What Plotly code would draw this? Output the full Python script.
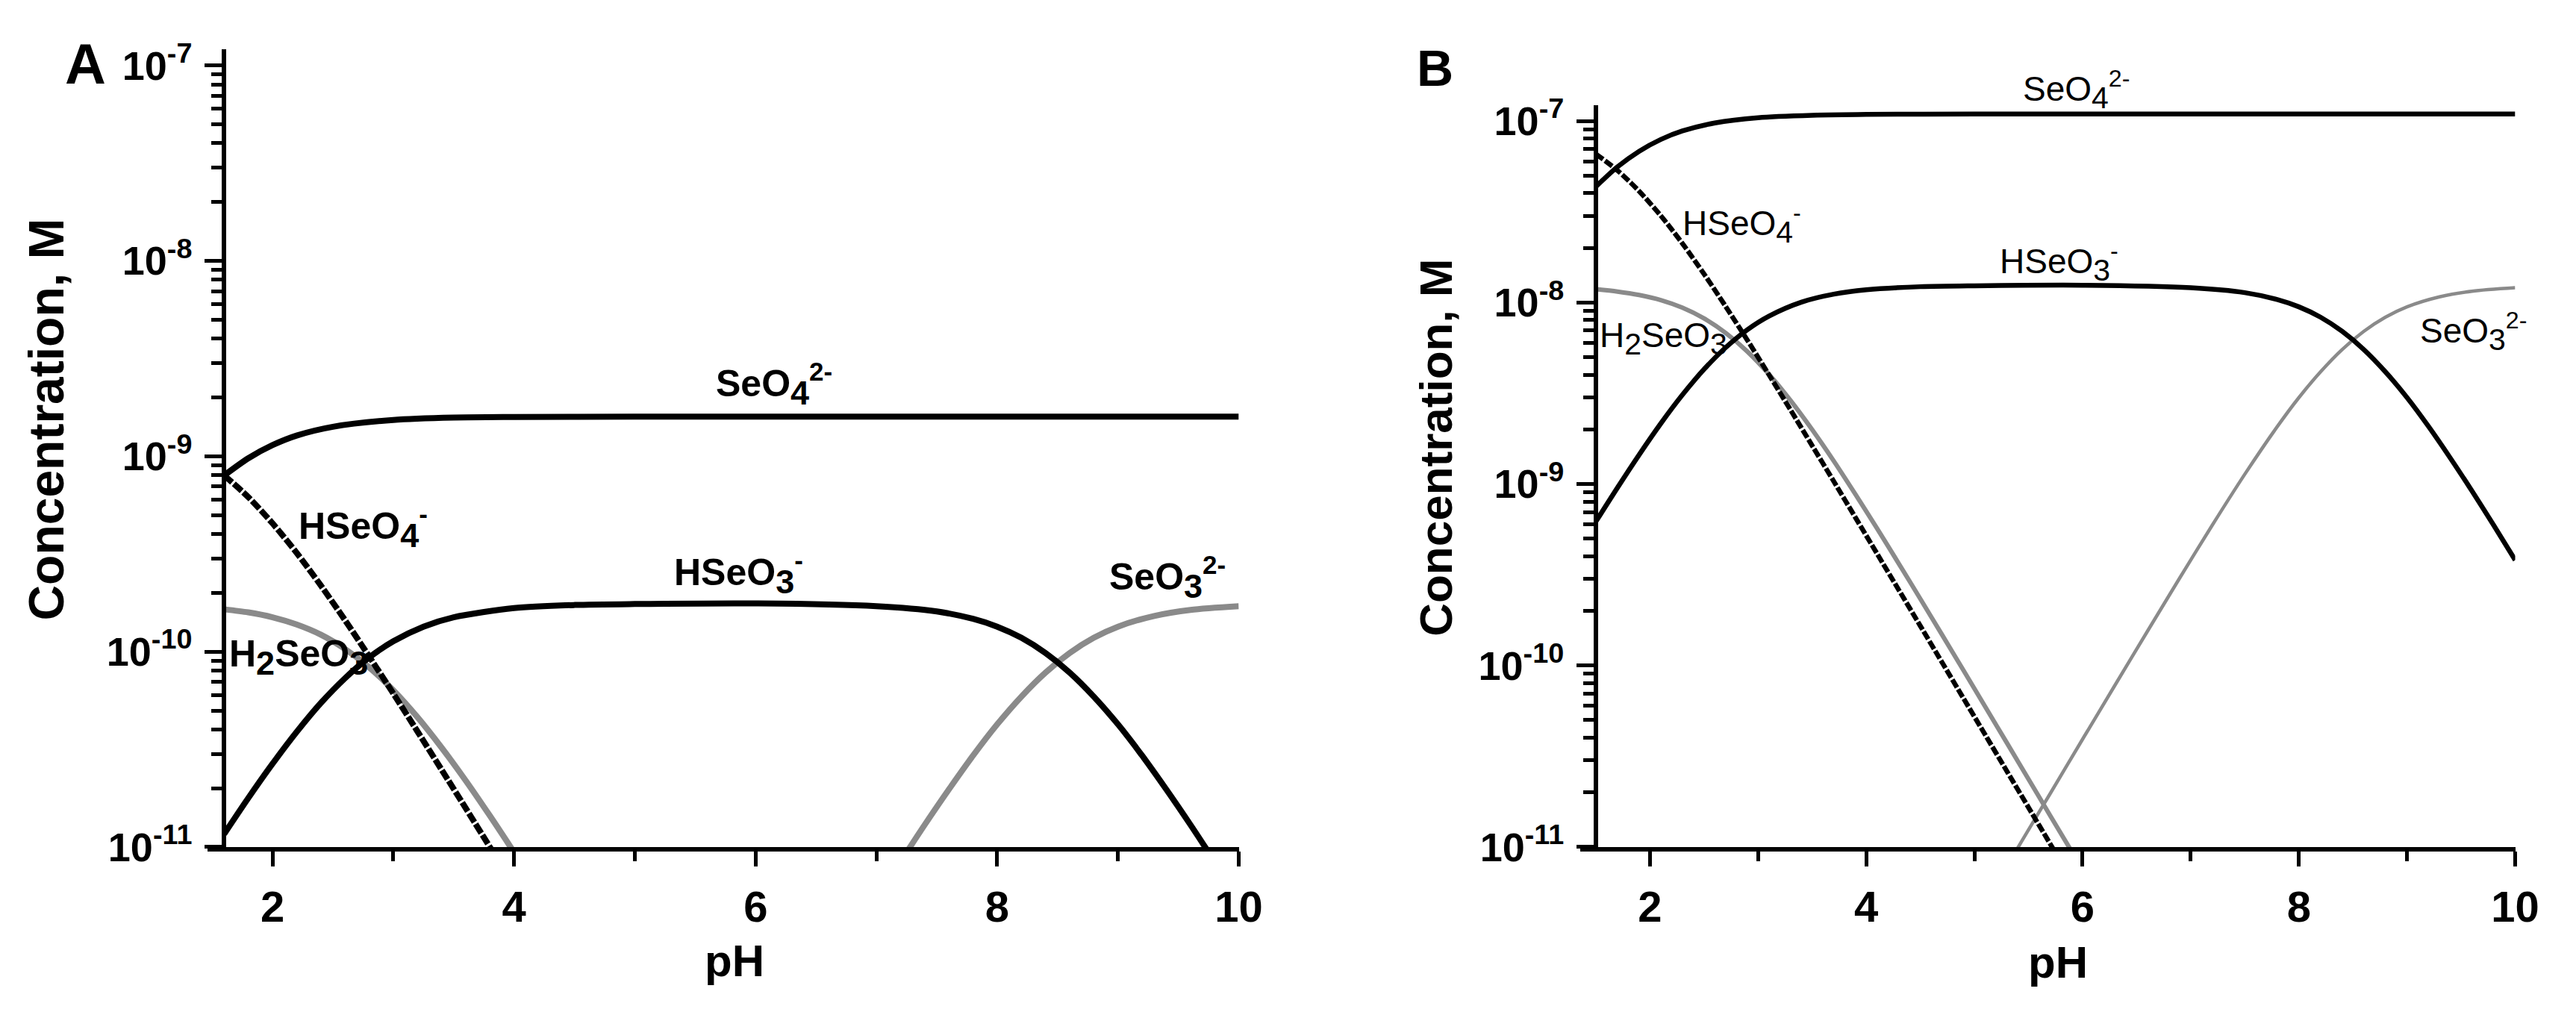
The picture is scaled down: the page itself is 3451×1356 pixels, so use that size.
import numpy as np
import plotly.graph_objects as go

W, H = 3451, 1356

# ---- panel A: log10 concentration (M) ----
ph_a_seo4 = [1.6, 1.8, 2.0, 2.2, 2.5, 3.0, 3.5, 4.0, 5.0, 6.0, 7.0, 8.0, 9.0, 10.0]
log_a_seo4 = [-9.098, -9.010, -8.943, -8.894, -8.849, -8.814, -8.802, -8.799, -8.797,
              -8.797, -8.797, -8.797, -8.797, -8.797]

ph_a_hseo4 = [1.6, 1.8, 2.0, 2.2, 2.4, 2.6, 2.8, 3.0, 3.2, 3.4, 3.6, 3.8, 3.9]
log_a_hseo4 = [-9.098, -9.209, -9.343, -9.494, -9.661, -9.838, -10.024, -10.214, -10.408,
               -10.604, -10.801, -11.000, -11.099]

ph_a_h2seo3 = [1.6, 1.8, 2.0, 2.2, 2.4, 2.6, 2.8, 3.0, 3.2, 3.4, 3.6, 3.8, 4.0]
log_a_h2seo3 = [-9.783, -9.799, -9.824, -9.861, -9.913, -9.986, -10.080, -10.197, -10.335,
                -10.491, -10.660, -10.840, -11.027]

ph_a_hseo3 = [1.6, 1.8, 2.0, 2.2, 2.4, 2.6, 2.8, 3.0, 3.25, 3.5, 4.0, 4.5, 5.0, 6.0, 7.0,
              7.5, 7.8, 8.0, 8.2, 8.4, 8.6, 8.8, 9.0, 9.2, 9.4, 9.6, 9.8]
log_a_hseo3 = [-10.933, -10.749, -10.574, -10.411, -10.263, -10.136, -10.030, -9.947, -9.872,
               -9.824, -9.777, -9.761, -9.756, -9.753, -9.767, -9.794, -9.832, -9.872,
               -9.929, -10.007, -10.107, -10.230, -10.372, -10.532, -10.705, -10.886, -11.074]

ph_a_seo3 = [7.2, 7.4, 7.6, 7.8, 8.0, 8.2, 8.4, 8.6, 8.8, 9.0, 9.3, 9.6, 10.0]
log_a_seo3 = [-11.074, -10.886, -10.705, -10.532, -10.372, -10.230, -10.107, -10.007,
              -9.929, -9.872, -9.817, -9.786, -9.767]

# ---- panel B ----
ph_b_seo4 = [1.5, 1.7, 1.9, 2.1, 2.3, 2.6, 3.0, 3.5, 4.0, 5.0, 6.0, 7.0, 8.0, 9.0, 10.0]
log_b_seo4 = [-7.362, -7.253, -7.167, -7.102, -7.055, -7.011, -6.982, -6.969, -6.964,
              -6.962, -6.962, -6.962, -6.962, -6.962, -6.962]

ph_b_hseo4 = [1.5, 1.7, 1.9, 2.1, 2.3, 2.5, 2.7, 2.9, 3.1, 3.3, 3.5, 3.7, 3.9, 4.1, 4.3,
              4.5, 4.7, 4.9, 5.1, 5.3, 5.5, 5.7, 5.9]
log_b_hseo4 = [-7.182, -7.273, -7.387, -7.522, -7.675, -7.843, -8.022, -8.207, -8.398,
               -8.592, -8.789, -8.986, -9.185, -9.384, -9.583, -9.782, -9.982, -10.182,
               -10.382, -10.582, -10.782, -10.982, -11.182]

ph_b_h2seo3 = [1.5, 1.7, 1.9, 2.1, 2.3, 2.5, 2.7, 2.9, 3.1, 3.3, 3.5, 3.7, 3.9, 4.1, 4.3,
               4.5, 4.7, 4.9, 5.1, 5.3, 5.5, 5.7, 5.9]
log_b_h2seo3 = [-7.927, -7.940, -7.959, -7.987, -8.029, -8.088, -8.168, -8.270, -8.395,
                -8.540, -8.701, -8.874, -9.057, -9.245, -9.438, -9.633, -9.830, -10.028,
                -10.227, -10.426, -10.626, -10.826, -11.025]

ph_b_hseo3 = [1.5, 1.7, 1.9, 2.1, 2.3, 2.5, 2.7, 2.9, 3.1, 3.4, 3.7, 4.0, 4.5, 5.0, 6.0,
              7.0, 7.5, 7.8, 8.0, 8.2, 8.4, 8.6, 8.8, 9.0, 9.2, 9.4, 9.6, 9.8, 10.0]
log_b_hseo3 = [-9.207, -9.020, -8.839, -8.667, -8.509, -8.368, -8.248, -8.150, -8.075,
               -7.998, -7.954, -7.930, -7.913, -7.908, -7.905, -7.919, -7.946, -7.984,
               -8.024, -8.081, -8.159, -8.259, -8.382, -8.524, -8.684, -8.857, -9.038,
               -9.226, -9.419]

ph_b_seo3 = [5.3, 5.5, 5.7, 6.0, 6.3, 6.6, 6.9, 7.2, 7.5, 7.8, 8.0, 8.2, 8.4, 8.6, 8.8,
             9.0, 9.3, 9.6, 10.0]
log_b_seo3 = [-11.105, -10.905, -10.706, -10.406, -10.108, -9.811, -9.516, -9.226, -8.946,
              -8.684, -8.524, -8.382, -8.259, -8.159, -8.081, -8.024, -7.969, -7.938, -7.919]

# axis ticks
x_major = [2, 4, 6, 8, 10]
x_minor = [3, 5, 7, 9]
y_exps = [-11, -10, -9, -8, -7]
y_major = [10.0 ** e for e in y_exps]
y_labels = [f"10<sup>{e}</sup>" for e in y_exps]
y_minor = [m * 10.0 ** e for e in y_exps[:-1] for m in range(2, 10)]

FONT = "Liberation Sans, Arial, sans-serif"
BLACK = "#000000"
GREY = "#8a8a8a"

fig = go.Figure()


def add_line(ph, logc, xa, ya, color, width, dash="solid"):
    fig.add_trace(go.Scatter(
        x=ph, y=10 ** np.array(logc), xaxis=xa, yaxis=ya, mode="lines",
        line=dict(color=color, width=width, dash=dash, shape="spline", smoothing=0.8),
        showlegend=False, hoverinfo="skip"))


# panel A
add_line(ph_a_h2seo3, log_a_h2seo3, "x", "y", GREY, 8)
add_line(ph_a_seo3, log_a_seo3, "x", "y", GREY, 8)
add_line(ph_a_seo4, log_a_seo4, "x", "y", BLACK, 8)
add_line(ph_a_hseo3, log_a_hseo3, "x", "y", BLACK, 8)
add_line(ph_a_hseo4, log_a_hseo4, "x", "y", BLACK, 8, "14px,3px")

# panel B
add_line(ph_b_h2seo3, log_b_h2seo3, "x2", "y2", GREY, 6)
add_line(ph_b_seo3, log_b_seo3, "x2", "y2", GREY, 4.5)
add_line(ph_b_seo4, log_b_seo4, "x2", "y2", BLACK, 6.5)
add_line(ph_b_hseo3, log_b_hseo3, "x2", "y2", BLACK, 6.5)
add_line(ph_b_hseo4, log_b_hseo4, "x2", "y2", BLACK, 6.5, "12px,3px")


def xaxis_style(domain, rng, anchor):
    return dict(
        domain=domain, range=rng, anchor=anchor, showgrid=False, zeroline=False,
        showline=True, linecolor=BLACK, linewidth=6,
        tickmode="array", tickvals=x_major, ticks="outside", ticklen=20, tickwidth=5,
        tickcolor=BLACK, ticklabelstandoff=4,
        tickfont=dict(family=FONT, size=58, color=BLACK, weight="bold"),
        minor=dict(tickmode="array", tickvals=x_minor, ticks="outside", ticklen=13,
                   tickwidth=5, tickcolor=BLACK, showgrid=False))


def yaxis_style(domain, rng, position):
    return dict(
        type="log", domain=domain, range=rng, anchor="free", position=position,
        showgrid=False, zeroline=False, showline=True, linecolor=BLACK, linewidth=6,
        tickmode="array", tickvals=y_major, ticktext=y_labels, ticks="outside",
        ticklen=23, tickwidth=5, tickcolor=BLACK, ticklabelstandoff=6,
        tickfont=dict(family=FONT, size=54, color=BLACK, weight="bold"),
        minor=dict(tickmode="array", tickvals=y_minor, ticks="outside", ticklen=14,
                   tickwidth=5, tickcolor=BLACK, showgrid=False))


def formula(parts, size):
    # subscripts are drawn close to full size, as in the figure
    out = ""
    for text, kind in parts:
        if kind == "sub":
            out += f"<sub><span style='font-size:{round(size * 0.9)}px'>{text}</span></sub>"
        elif kind == "sup":
            out += f"<sup>{text}</sup>"
        else:
            out += text
    return out


def species(parts, x, y, xref, yref, size, bold, xanchor="center"):
    return dict(text=formula(parts, size), x=x, y=y, xref=xref, yref=yref, showarrow=False,
                xanchor=xanchor, yanchor="middle",
                font=dict(family=FONT, size=size, color=BLACK,
                          weight="bold" if bold else "normal"))


def paper_text(text, px, py, size, angle=0, xanchor="center", yanchor="middle", bold=True):
    return dict(text=text, x=px / W, y=1 - py / H, xref="paper", yref="paper",
                showarrow=False, textangle=angle, xanchor=xanchor, yanchor=yanchor,
                font=dict(family=FONT, size=size, color=BLACK,
                          weight="bold" if bold else "normal"))


SEO4 = [("SeO", ""), ("4", "sub"), ("2-", "sup")]
HSEO3 = [("HSeO", ""), ("3", "sub"), ("-", "sup")]
SEO3 = [("SeO", ""), ("3", "sub"), ("2-", "sup")]
HSEO4 = [("HSeO", ""), ("4", "sub"), ("-", "sup")]
H2SEO3 = [("H", ""), ("2", "sub"), ("SeO", ""), ("3", "sub")]

annotations = [
    species(SEO4, 6.15, -8.63, "x", "y", 50, True),
    species(HSEO3, 5.86, -9.60, "x", "y", 50, True),
    species(SEO3, 9.41, -9.62, "x", "y", 50, True),
    species(HSEO4, 2.75, -9.36, "x", "y", 50, True),
    species(H2SEO3, 1.63, -10.03, "x", "y", 50, True, xanchor="left"),
    # panel B SeO4 label sits above the top of the y range, so place it on the page
    paper_text(formula(SEO4, 46), 2799, 100, 46, bold=False),
    species(HSEO3, 5.78, -7.78, "x2", "y2", 46, False),
    species(SEO3, 9.61, -8.16, "x2", "y2", 46, False),
    species(HSEO4, 2.85, -7.57, "x2", "y2", 46, False),
    species(H2SEO3, 1.52, -8.20, "x2", "y2", 46, False, xanchor="left"),
    paper_text("A", 78, 18, 76, xanchor="left", yanchor="top"),
    paper_text("B", 1906, 28, 68, xanchor="left", yanchor="top"),
    paper_text("Concentration, M", 55, 557, 66, angle=-90),
    paper_text("Concentration, M", 1934, 596, 62, angle=-90),
    paper_text("pH", 985, 1308, 60),
    paper_text("pH", 2775, 1310, 60),
]

fig.update_layout(
    width=W, height=H, autosize=False,
    margin=dict(l=0, r=0, t=0, b=0),
    paper_bgcolor="white", plot_bgcolor="white",
    showlegend=False,
    xaxis=xaxis_style([273 / W, 1667 / W], [1.465, 10], "y"),
    yaxis=yaxis_style([1 - 1150 / H, 1 - 43 / H], [-11, -6.915], 295 / W),
    xaxis2=xaxis_style([2129 / W, 3393 / W], [1.357, 10], "y2"),
    yaxis2=yaxis_style([1 - 1150 / H, 1 - 121 / H], [-11, -6.913], 2150 / W),
    annotations=annotations,
)

fig.write_html("out.html")
